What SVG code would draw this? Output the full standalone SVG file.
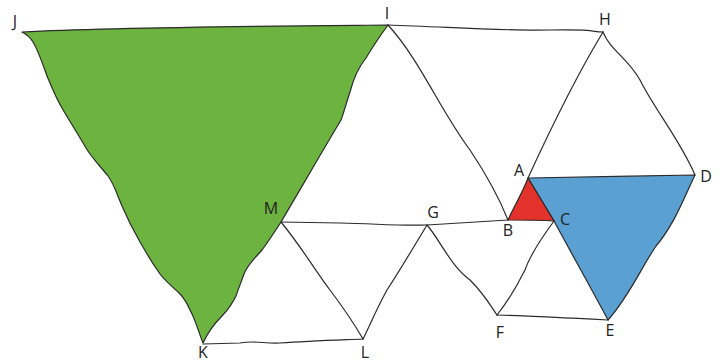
<svg xmlns="http://www.w3.org/2000/svg" width="724" height="363" viewBox="0 0 724 363">
<style>
.e{fill:none;stroke:#2b2b2b;stroke-width:1.2;stroke-linejoin:round;stroke-linecap:round}
.f{stroke:#2b2b2b;stroke-width:1.2;stroke-linejoin:round}
.l{font-family:"Open Sans","Liberation Sans",sans-serif;font-size:16px;fill:#222;text-anchor:middle}
</style>
<rect width="724" height="363" fill="#ffffff"/>
<g id="shapes">
<path id="green" class="f" fill="#6db33f" d="M22,32 C120,27 280,26 388,25 C380,36 372,48 366,58 C358,68 353,80 350,92 C346,104 344,112 341,120 C320,155 300,190 281,222 C272,236 268,242 262,250 C255,258 248,264 244,274 C240,285 238,290 236,296 C232,304 228,310 222,316 C214,324 208,332 203,343 C199,333 196,322 192,314 C188,306 186,300 180,294 C172,286 166,282 160,274 C150,260 146,252 140,242 C132,228 128,220 122,206 C116,192 114,184 108,176 C100,166 92,158 86,148 C78,134 70,122 62,108 C56,98 52,88 47,76 C42,62 38,50 33,42 C30,37 26,34 22,32 Z"/>
<path id="blue" class="f" fill="#5aa0d2" d="M528,178 C580,177 640,176 695,175 C684,198 674,225 656,246 C640,270 628,298 608,320 C592,290 574,258 554,221 Z"/>
<path id="red" class="f" fill="#e3312b" d="M528,178 L554,221 C538,220 522,220 508,220 C514,206 522,194 528,178 Z"/>
</g>
<g id="connectors">
<path class="e" d="M388,25 C450,27 500,31 550,30 S590,32 603,32"/>
<path class="e" d="M388,25 C420,60 440,110 470,150 C490,180 500,200 508,220"/>
<path class="e" d="M603,32 C580,70 550,130 528,178"/>
<path class="e" d="M603,32 C610,50 628,58 640,80 C655,110 680,140 695,175"/>
<path class="e" d="M281,222 L340,223 C380,224 400,226 427,225 C460,223 490,221 508,220"/>
<path class="e" d="M427,225 C415,245 400,270 387,290 C376,310 370,325 363,339"/>
<path class="e" d="M281,222 C300,245 315,270 330,290 C345,310 355,325 363,339"/>
<path class="e" d="M203,344 L240,343 C255,340 265,344 280,343 C310,341 340,340 363,339"/>
<path class="e" d="M427,225 C440,240 450,265 470,280 C485,295 490,305 497,315"/>
<path class="e" d="M554,221 C540,240 530,255 525,270 C515,290 505,305 497,315"/>
<path class="e" d="M497,315 C530,316 570,318 608,320"/>
</g>
<g id="labels">
<g id="J"><text class="l" x="15" y="27">J</text></g>
<g id="I"><text class="l" x="387" y="19">I</text></g>
<g id="H"><text class="l" x="605" y="25">H</text></g>
<g id="A"><text class="l" x="519" y="176">A</text></g>
<g id="D"><text class="l" x="706" y="182">D</text></g>
<g id="C"><text class="l" x="565" y="225">C</text></g>
<g id="B"><text class="l" x="508" y="236">B</text></g>
<g id="G"><text class="l" x="433" y="218">G</text></g>
<g id="M"><text class="l" x="271" y="214">M</text></g>
<g id="F"><text class="l" x="500" y="338">F</text></g>
<g id="E"><text class="l" x="610" y="336">E</text></g>
<g id="K"><text class="l" x="203" y="358">K</text></g>
<g id="L"><text class="l" x="365" y="358">L</text></g>
</g>
</svg>
